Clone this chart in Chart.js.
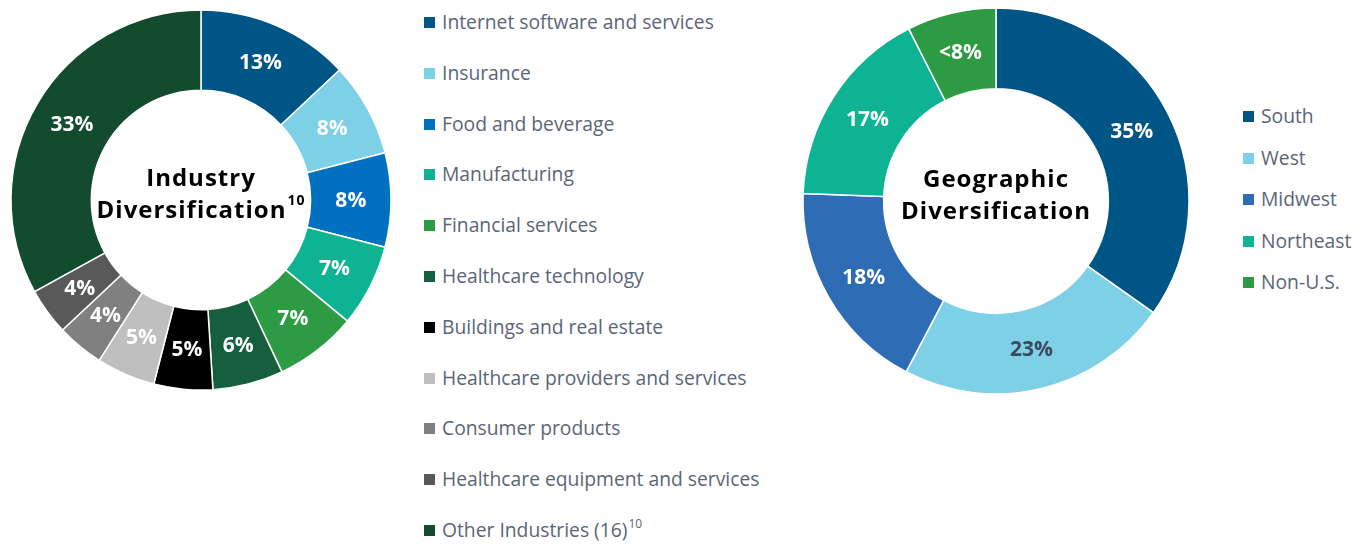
<!DOCTYPE html>
<html>
<head>
<meta charset="utf-8">
<script src="https://cdn.jsdelivr.net/npm/chart.js@4.4.0/dist/chart.umd.min.js"></script>
<style>
html, body { margin: 0; padding: 0; background: #fff; }
body { width: 1369px; height: 544px; position: relative; overflow: hidden; font-family: "Open Sans", sans-serif; }
#industryWrap { position: absolute; left: 0; top: 0; width: 402px; height: 400px; }
#geoWrap { position: absolute; left: 796px; top: 1px; width: 400px; height: 400px; }
.legend { position: absolute; top: 0; margin: 0; padding: 0; list-style: none; color: #5a6577; font-size: 19.3px; }
.legend li { position: absolute; left: 0; height: 26px; line-height: 26px; white-space: nowrap; }
.legend .sw { position: absolute; left: 0; top: 8px; width: 11px; height: 11px; }
.legend .txt { position: absolute; left: 18px; top: 0; }
.legend sup { font-size: 12px; vertical-align: 9px; line-height: 0; margin-left: 1px; }
#industryLegend { left: 424px; }
#geoLegend { left: 1243px; }
</style>
</head>
<body>
<div id="industryWrap"><canvas id="industryChart"></canvas></div>
<div id="geoWrap"><canvas id="geoChart"></canvas></div>
<ul class="legend" id="industryLegend"></ul>
<ul class="legend" id="geoLegend"></ul>
<script>
// industry split, percent of portfolio
var industryNames = ['Internet software and services', 'Insurance', 'Food and beverage', 'Manufacturing',
    'Financial services', 'Healthcare technology', 'Buildings and real estate',
    'Healthcare providers and services', 'Consumer products', 'Healthcare equipment and services',
    'Other Industries (16)'];
var industryNotes = ['', '', '', '', '', '', '', '', '', '', '10'];
var industryValues = [13, 8, 8, 7, 7, 6, 5, 5, 4, 4, 33];
var industryText = ['13%', '8%', '8%', '7%', '7%', '6%', '5%', '5%', '4%', '4%', '33%'];
var industryTitle = ['Industry', 'Diversification'];
var industryTitleNote = '10';

// geographic split
var geoNames = ['South', 'West', 'Midwest', 'Northeast', 'Non-U.S.'];
var geoValues = [35, 23, 18, 17, 7.5];
var geoText = ['35%', '23%', '18%', '17%', '<8%'];
var geoTitle = ['Geographic', 'Diversification'];
var geoTitleNote = '';

// colours
var industryColors = ['#005587', '#7dd0e6', '#0070c0', '#0db393', '#2d9a44', '#155f3e',
    '#000000', '#bfbfbf', '#808080', '#595959', '#124b2e'];
var industryTextColors = ['#fff', '#fff', '#fff', '#fff', '#fff', '#fff', '#fff', '#fff', '#fff', '#fff', '#fff'];
var geoColors = ['#005587', '#7dd0e6', '#2e6db5', '#0db393', '#2d9a44'];
var geoTextColors = ['#fff', '#3b4a5e', '#fff', '#fff', '#fff'];

var sliceLabels = {
    id: 'sliceLabels',
    afterDatasetsDraw: function(chart, args, opts) {
        var ctx = chart.ctx;
        var meta = chart.getDatasetMeta(0);
        ctx.save();
        ctx.font = 'bold 21px "Open Sans", sans-serif';
        ctx.textAlign = 'center';
        ctx.textBaseline = 'middle';
        meta.data.forEach(function(arc, i) {
            var p = arc.tooltipPosition();
            ctx.fillStyle = opts.colors[i];
            ctx.fillText(opts.text[i], p.x, p.y + 1);
        });

        // title in the hole
        var cx = (chart.chartArea.left + chart.chartArea.right) / 2;
        var cy = (chart.chartArea.top + chart.chartArea.bottom) / 2;
        ctx.fillStyle = '#000';
        ctx.letterSpacing = '1px';
        ctx.font = 'bold 24px "Open Sans", sans-serif';
        ctx.textBaseline = 'alphabetic';
        ctx.textAlign = 'center';
        ctx.fillText(opts.title[0], cx, cy - 14);
        var w1 = ctx.measureText(opts.title[1]).width;
        var w2 = 0;
        if (opts.note) {
            ctx.font = 'bold 14px "Open Sans", sans-serif';
            w2 = ctx.measureText(opts.note).width + 1;
        }
        var x0 = cx - (w1 + w2) / 2;
        ctx.textAlign = 'left';
        ctx.font = 'bold 24px "Open Sans", sans-serif';
        ctx.fillText(opts.title[1], x0, cy + 18);
        if (opts.note) {
            ctx.font = 'bold 14px "Open Sans", sans-serif';
            ctx.fillText(opts.note, x0 + w1 + 1, cy + 5);
        }
        ctx.restore();
    }
};

function makeDonut(id, names, values, colors, outer, inner, labelOpts) {
    return new Chart(document.getElementById(id), {
        type: 'doughnut',
        data: {
            labels: names,
            datasets: [{
                data: values,
                backgroundColor: colors,
                borderColor: '#fff',
                borderWidth: 1.5,
                hoverOffset: 0
            }]
        },
        options: {
            responsive: true,
            maintainAspectRatio: false,
            animation: false,
            radius: outer,
            cutout: inner,
            layout: { padding: 0 },
            plugins: {
                legend: { display: false },
                tooltip: { enabled: false },
                sliceLabels: labelOpts
            }
        },
        plugins: [sliceLabels]
    });
}

function makeLegend(id, names, notes, colors, firstY, step) {
    var ul = document.getElementById(id);
    names.forEach(function(name, i) {
        var li = document.createElement('li');
        li.style.top = (firstY + i * step - 13) + 'px';
        var sw = document.createElement('span');
        sw.className = 'sw';
        sw.style.background = colors[i];
        var txt = document.createElement('span');
        txt.className = 'txt';
        txt.textContent = name;
        if (notes && notes[i]) {
            var sup = document.createElement('sup');
            sup.textContent = notes[i];
            txt.appendChild(sup);
        }
        li.appendChild(sw);
        li.appendChild(txt);
        ul.appendChild(li);
    });
}

makeDonut('industryChart', industryNames, industryValues, industryColors, 190, 115,
    { text: industryText, colors: industryTextColors, title: industryTitle, note: industryTitleNote });
makeDonut('geoChart', geoNames, geoValues, geoColors, 193, 116,
    { text: geoText, colors: geoTextColors, title: geoTitle, note: geoTitleNote });

makeLegend('industryLegend', industryNames, industryNotes, industryColors, 22, 50.8);
makeLegend('geoLegend', geoNames, null, geoColors, 116, 41.5);
</script>
</body>
</html>
